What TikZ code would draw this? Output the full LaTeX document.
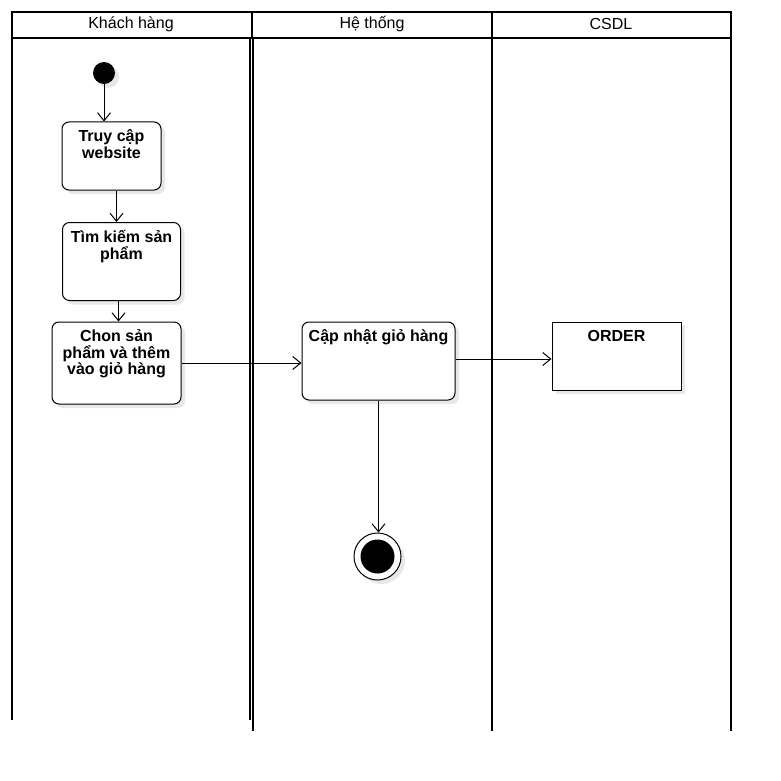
\documentclass[tikz,border=0pt]{standalone}
\usepackage{fontspec}
\setmainfont{Liberation Sans}
\usetikzlibrary{arrows.meta,shadows}

\begin{document}
\begin{tikzpicture}[x=1pt,y=-1pt,
  shade/.style={drop shadow={shadow xshift=4pt,shadow yshift=-4pt,fill=black!9,opacity=1}},
  act/.style={draw,line width=1pt,fill=white,rounded corners=7pt,shade},
  txt/.style={font=\fontsize{16}{16.5}\selectfont\bfseries,align=center,anchor=north,yshift=-5pt},
  flow/.style={line width=1pt,-{Straight Barb[length=8pt,width=13pt]}}]

  \useasboundingbox (0,0) rectangle (781,781);

  % swimlanes
  \draw[line width=1.5pt] (12,38)--(12,720);
  \draw[line width=1.5pt] (250,38)--(250,720);
  \draw[line width=2.5pt] (253,38)--(253,731);
  \draw[line width=2.5pt] (492,38)--(492,731);
  \draw[line width=2.5pt] (731,38)--(731,731);
  \draw[line width=2.5pt] (12,12) rectangle (731,38);
  \draw[line width=2.5pt] (252,12)--(252,38);
  \draw[line width=2.5pt] (492,12)--(492,38);

  \node[font=\fontsize{16}{18}\selectfont] at (131,24) (lane1) {Khách hàng};
  \node[font=\fontsize{16}{18}\selectfont] at (372,24) (lane2) {Hệ thống};
  \node[font=\fontsize{16}{18}\selectfont] at (611,24) (lane3) {CSDL};

  % activities
  \node[circle,fill=black,minimum size=22pt,inner sep=0pt,shade] at (104,73) (start) {};

  \node[act,minimum width=99pt,minimum height=68pt,
        label={[txt]north:{Truy cập\\website}}] at (111.5,156) (truy) {};
  \node[act,minimum width=118pt,minimum height=78pt,
        label={[txt]north:{Tìm kiếm sản\\phẩm}}] at (121.5,261.5) (tim) {};
  \node[act,minimum width=129pt,minimum height=82pt,
        label={[txt]north:{Chon sản\\phẩm và thêm\\vào giỏ hàng}}] at (116.5,363) (chon) {};
  \node[act,minimum width=153pt,minimum height=78pt,
        label={[txt]north:{Cập nhật giỏ hàng}}] at (378.5,361) (cap) {};
  \node[draw,line width=1pt,fill=white,minimum width=129pt,minimum height=68pt,shade,
        label={[txt]north:{ORDER}}] at (616.5,356) (order) {};

  \node[circle,draw,line width=1pt,fill=white,minimum size=47pt,inner sep=0pt,shade] at (377.5,556.5) (end) {};
  \fill (end) circle (17pt);

  % flows
  \draw[flow] (start.south) -- (start.south |- truy.north);
  \draw[flow] ([xshift=5pt]truy.south) -- ([xshift=5pt]truy.south |- tim.north);
  \draw[flow] ([xshift=-3pt]tim.south) -- ([xshift=-3pt]tim.south |- chon.north);
  \draw[flow] (chon.east) -- (chon.east -| cap.west);
  \draw[flow] ([yshift=-3pt]order.west -| cap.east) -- ([yshift=-3pt]order.west);
  \draw[flow] (cap.south) -- (cap.south |- end.north);

\end{tikzpicture}
\end{document}
